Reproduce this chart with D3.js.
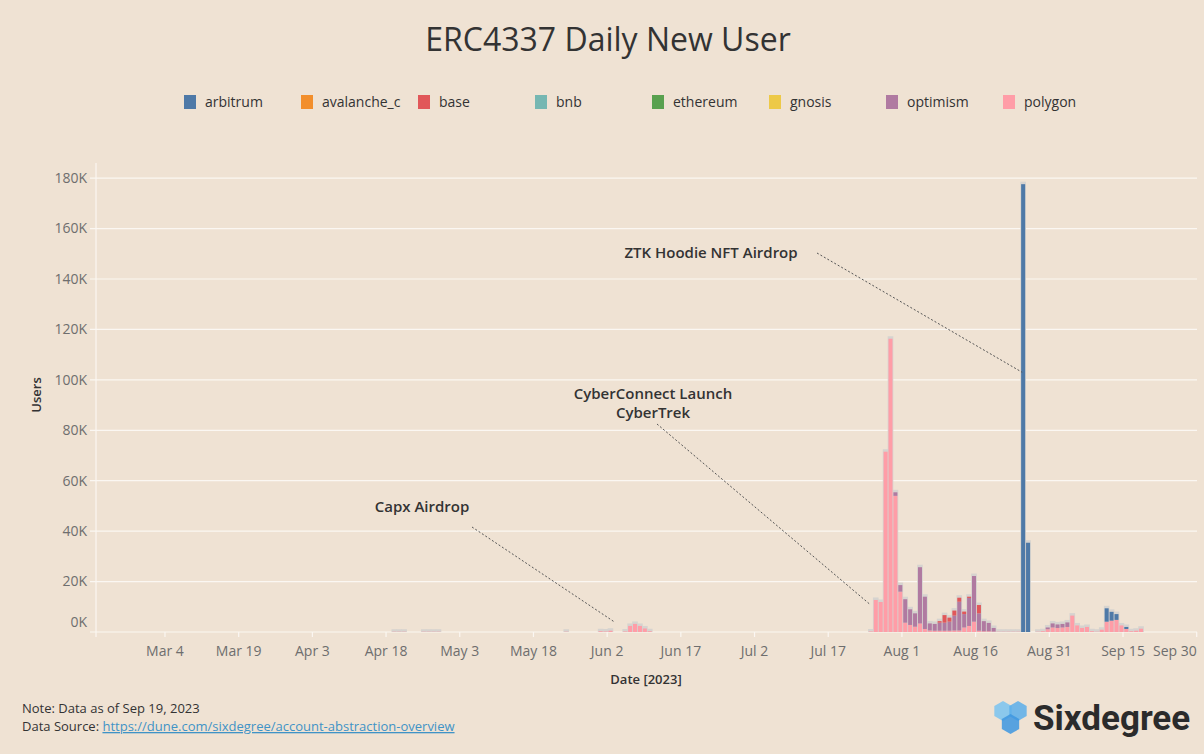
<!DOCTYPE html>
<html>
<head>
<meta charset="utf-8">
<script src="https://cdn.jsdelivr.net/npm/d3@7"></script>
<style>
  html, body { margin: 0; padding: 0; background: #efe2d3; }
  svg { display: block; font-family: "Open Sans", sans-serif; }
</style>
</head>
<body>
<div id="chart"></div>
<script>
  // daily new users (thousands) per chain
  const dates = [
    "2023-04-20","2023-04-21","2023-04-22",
    "2023-04-26","2023-04-27","2023-04-28","2023-04-29",
    "2023-05-25",
    "2023-06-01","2023-06-02","2023-06-03","2023-06-06","2023-06-07","2023-06-08","2023-06-09","2023-06-10","2023-06-11",
    "2023-07-26","2023-07-27","2023-07-28","2023-07-29","2023-07-30","2023-07-31",
    "2023-08-01","2023-08-02","2023-08-03","2023-08-04","2023-08-05","2023-08-06","2023-08-07","2023-08-08",
    "2023-08-09","2023-08-10","2023-08-11","2023-08-12","2023-08-13","2023-08-14","2023-08-15","2023-08-16",
    "2023-08-17","2023-08-18","2023-08-19","2023-08-20","2023-08-21","2023-08-22","2023-08-23","2023-08-24",
    "2023-08-25","2023-08-26","2023-08-27","2023-08-29","2023-08-30","2023-08-31",
    "2023-09-01","2023-09-02","2023-09-03","2023-09-04","2023-09-05","2023-09-06","2023-09-07","2023-09-08",
    "2023-09-09","2023-09-10","2023-09-11","2023-09-12","2023-09-13","2023-09-14","2023-09-15","2023-09-16",
    "2023-09-17","2023-09-18","2023-09-19"
  ];
  const polygon = [
    0.1,0.1,0.1,
    0.1,0.1,0.1,0.1,
    0.1,
    0.3,0.2,0.5,0.2,2.4,3.2,2.4,1.4,0.3,
    0.2,12.7,11.9,71.5,116.3,54.0,
    16.0,3.7,2.8,2.1,3.4,1.2,0.6,0.5,
    0.5,0.5,0.5,0.6,0.6,1.8,2.4,4.1,
    0.5,0.3,0.3,0.2,0.1,0.1,0.1,0.1,
    0.1,0,0,0.1,0.3,1.1,
    1.8,1.6,1.8,2.0,6.5,2.6,1.6,2.0,
    0.3,0.1,0.9,4.1,4.5,4.8,2.6,1.2,
    0.3,0.5,1.3
  ];
  const optimism = [
    0,0,0,
    0,0,0,0,
    0,
    0,0,0,0,0,0,0,0,0,
    0,0,0,0,0,1.4,
    2.6,9.3,6.2,5.3,22.3,12.8,2.8,2.7,
    3.2,3.2,3.6,5.9,11.4,5.3,11.1,18.1,
    6.9,4.0,3.3,1.4,0,0,0,0,
    0,0,0,0,0,0.7,
    1.6,1.4,1.4,1.8,0,0,0,0,
    0,0,0,0,0,0,0,0,
    0,0,0
  ];
  const base = [
    0,0,0,
    0,0,0,0,
    0,
    0,0,0,0,0,0,0,0,0,
    0,0,0,0,0,0,
    0,0,0,0,0,0,0,0,
    0.6,3.0,1.6,2.0,1.6,1.0,0.5,0,
    3.3,0,0,0,0,0,0,0,
    0,0,0,0,0,0,
    0,0,0,0,0,0,0,0,
    0,0,0,0,0,0,0,0,
    0,0,0
  ];
  const arbitrum = [
    0,0,0,
    0,0,0,0,
    0,
    0,0,0,0,0,0,0,0,0,
    0,0,0,0,0,0,
    0,0,0,0,0,0,0,0,
    0,0,0,0,0,0,0,0,
    0,0,0,0,0,0,0,0,
    0,177.6,35.4,0,0,0,
    0,0,0,0,0,0,0,0,
    0,0,0,5.3,3.5,2.3,0,0.8,
    0,0,0
  ];

  const chains = ["arbitrum","avalanche_c","base","bnb","ethereum","gnosis","optimism","polygon"];
  const chainColors = ["#4e79a7","#f28e2b","#e15759","#76b7b2","#59a14f","#edc948","#b07aa1","#ff9da7"];
  const stackOrder = ["polygon","optimism","base","arbitrum"];

  const yTicks = [0,20,40,60,80,100,120,140,160,180];
  const xTickDates = ["2023-03-04","2023-03-19","2023-04-03","2023-04-18","2023-05-03","2023-05-18","2023-06-02",
                      "2023-06-17","2023-07-02","2023-07-17","2023-08-01","2023-08-16","2023-08-31","2023-09-15","2023-09-30"];
  const xTickLabels = ["Mar 4","Mar 19","Apr 3","Apr 18","May 3","May 18","Jun 2",
                       "Jun 17","Jul 2","Jul 17","Aug 1","Aug 16","Aug 31","Sep 15","Sep 30"];

  const annotations = [
    {lines: ["ZTK Hoodie NFT Airdrop"], date: "2023-08-26", value: 103},
    {lines: ["CyberConnect Launch", "CyberTrek"], date: "2023-07-26", value: 11},
    {lines: ["Capx Airdrop"], date: "2023-06-04", value: 4}
  ];

  const width = 1204, height = 754;
  const parse = d3.utcParse("%Y-%m-%d");
  const series = {polygon, optimism, base, arbitrum};

  const rows = dates.map((d, i) => {
    const r = {date: parse(d)};
    stackOrder.forEach(k => r[k] = series[k][i]);
    return r;
  });

  const x = d3.scaleUtc()
    .domain([parse("2023-02-18"), parse("2023-09-30")])
    .range([96.2, 1196.7]);
  const y = d3.scaleLinear().domain([0, 186]).range([632, 163]);
  const color = d3.scaleOrdinal().domain(chains).range(chainColors);

  const dayW = x(parse("2023-03-02")) - x(parse("2023-03-01"));
  const barW = dayW * 0.82;
  const cx = d => x(d) - 1.6;

  const svg = d3.select("#chart").append("svg")
    .attr("width", width).attr("height", height);

  svg.append("rect").attr("width", width).attr("height", height).attr("fill", "#efe2d3");

  // title
  svg.append("text")
    .attr("x", 608).attr("y", 51)
    .attr("text-anchor", "middle")
    .attr("font-size", 32).attr("fill", "#333")
    .text("ERC4337 Daily New User");

  // legend
  const legend = svg.append("g").selectAll("g")
    .data(chains)
    .join("g")
    .attr("transform", (d, i) => `translate(${184 + i * 117},95)`);
  legend.append("rect").attr("width", 12).attr("height", 14).attr("fill", d => color(d));
  legend.append("text").attr("x", 21).attr("y", 12)
    .attr("font-size", 14).attr("fill", "#333").text(d => d);

  // grid + y axis
  svg.append("g").selectAll("line")
    .data(yTicks)
    .join("line")
    .attr("x1", 90).attr("x2", 1197)
    .attr("y1", d => y(d)).attr("y2", d => y(d))
    .attr("stroke", "#fbf7f2").attr("stroke-width", 1.2);

  svg.append("line")
    .attr("x1", 96).attr("x2", 96).attr("y1", 163).attr("y2", 637)
    .attr("stroke", "#fbf7f2").attr("stroke-width", 1.2);

  svg.append("g").selectAll("text")
    .data(yTicks)
    .join("text")
    .attr("x", 87)
    .attr("y", d => d === 0 ? y(d) - 10 : y(d))
    .attr("dy", "0.35em")
    .attr("text-anchor", "end")
    .attr("font-size", 14).attr("fill", "#6e6e6e")
    .text(d => d + "K");

  svg.append("text")
    .attr("transform", "translate(41,395) rotate(-90)")
    .attr("text-anchor", "middle")
    .attr("font-size", 13).attr("font-weight", 600).attr("fill", "#333")
    .text("Users");

  // x axis ticks
  const xt = svg.append("g").selectAll("g")
    .data(xTickDates.map((d, i) => ({date: parse(d), label: xTickLabels[i]})))
    .join("g")
    .attr("transform", d => `translate(${x(d.date)},0)`);
  xt.append("line").attr("y1", 632).attr("y2", 637)
    .attr("stroke", "#fbf7f2").attr("stroke-width", 1.2);
  xt.append("text")
    .attr("y", 656)
    .attr("text-anchor", (d, i) => i === xTickDates.length - 1 ? "end" : "middle")
    .attr("font-size", 14).attr("fill", "#6e6e6e")
    .text(d => d.label);

  svg.append("text")
    .attr("x", 646).attr("y", 684)
    .attr("text-anchor", "middle")
    .attr("font-size", 13).attr("font-weight", 600).attr("fill", "#333")
    .text("Date [2023]");

  // bars
  const stacked = d3.stack().keys(stackOrder)(rows);
  const totals = rows.map(r => d3.sum(stackOrder, k => r[k]));

  svg.append("g").selectAll("rect")
    .data(rows)
    .join("rect")
    .attr("x", d => cx(d.date) - barW / 2 - 0.8)
    .attr("width", barW + 1.6)
    .attr("y", (d, i) => y(totals[i]) - 2.5)
    .attr("height", (d, i) => y(0) - y(totals[i]) + 2.5)
    .attr("fill", "#d6d3cf");

  svg.append("g").selectAll("g")
    .data(stacked)
    .join("g")
    .attr("fill", s => color(s.key))
    .selectAll("rect")
    .data(s => s)
    .join("rect")
    .attr("x", d => cx(d.data.date) - barW / 2)
    .attr("width", barW)
    .attr("y", d => y(d[1]))
    .attr("height", d => Math.max(0, y(d[0]) - y(d[1])));

  // annotations
  const annPos = [
    {tx: 711, ty: 253, lx1: 817, ly1: 253},
    {tx: 653, ty: 394, lx1: 657, ly1: 424},
    {tx: 422, ty: 507, lx1: 472, ly1: 527}
  ];
  annotations.forEach((a, i) => {
    const p = annPos[i];
    const t = svg.append("text")
      .attr("text-anchor", "middle")
      .attr("font-size", 15).attr("font-weight", 600).attr("fill", "#333");
    a.lines.forEach((l, j) => t.append("tspan")
      .attr("x", p.tx).attr("y", p.ty + 5 + j * 19).text(l));
    svg.append("line")
      .attr("x1", p.lx1).attr("y1", p.ly1)
      .attr("x2", cx(parse(a.date)) - 1).attr("y2", y(a.value))
      .attr("stroke", "#555").attr("stroke-width", 1)
      .attr("stroke-dasharray", "2,2");
  });

  // footer
  svg.append("text").attr("x", 22).attr("y", 713)
    .attr("font-size", 13).attr("fill", "#333")
    .text("Note: Data as of  Sep 19, 2023");
  const src = svg.append("text").attr("x", 22).attr("y", 731)
    .attr("font-size", 13).attr("fill", "#333");
  src.append("tspan").text("Data Source: ");
  src.append("tspan").attr("fill", "#3f93c6").attr("text-decoration", "underline")
    .text("https://dune.com/sixdegree/account-abstraction-overview");

  // logo
  const hex = (cx0, cy0, r) => d3.range(6).map(k => {
    const a = Math.PI / 3 * k + Math.PI / 6;
    return [cx0 + r * Math.cos(a), cy0 + r * Math.sin(a)];
  });
  const logo = svg.append("g");
  [[1003, 711, "#79c3f0"], [1018, 711, "#5aaeea"], [1010.5, 724, "#3d96e0"]].forEach(([hx, hy, c]) => {
    logo.append("polygon")
      .attr("points", hex(hx, hy, 10).join(" "))
      .attr("fill", c).attr("fill-opacity", 0.85);
  });
  svg.append("text").attr("x", 1033).attr("y", 730)
    .attr("font-size", 35).attr("font-weight", 700).attr("fill", "#2b2b2b")
    .attr("font-family", "Roboto, sans-serif")
    .text("Sixdegree");
</script>
</body>
</html>
